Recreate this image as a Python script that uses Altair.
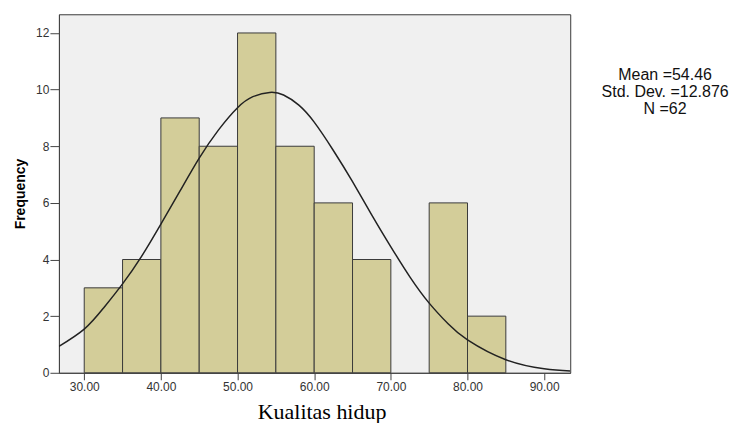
import altair as alt
import pandas as pd

# Histogram bins (Kualitas hidup) and frequencies
bin_start = [30, 35, 40, 45, 50, 55, 60, 65, 70, 75, 80]
bin_end = [35, 40, 45, 50, 55, 60, 65, 70, 75, 80, 85]
frequency = [3, 4, 9, 8, 12, 8, 6, 4, 0, 6, 2]

# Normal curve points
curve_x = [26.7, 30, 32.5, 35, 37.5, 40, 42.5, 45, 47.5, 50, 52, 54.2, 56, 58,
           60, 62.5, 65, 67.5, 70, 72.5, 75, 77.5, 80, 85, 90, 93.4]
curve_y = [0.93, 1.54, 2.28, 3.14, 4.12, 5.25, 6.42, 7.58, 8.57, 9.36, 9.75, 9.90, 9.81, 9.45,
           8.85, 7.85, 6.75, 5.58, 4.45, 3.38, 2.46, 1.72, 1.16, 0.46, 0.14, 0.06]

x_ticks = [30, 40, 50, 60, 70, 80, 90]
y_ticks = [0, 2, 4, 6, 8, 10, 12]
stats_lines = ["Mean =54.46", "Std. Dev. =12.876", "N =62"]

bars_df = pd.DataFrame({"start": bin_start, "end": bin_end, "freq": frequency})
curve_df = pd.DataFrame({"x": curve_x, "y": curve_y})

x_scale = alt.Scale(domain=[26.7, 93.4], nice=False, zero=False)
y_scale = alt.Scale(domain=[0, 12.66], nice=False)

x_axis = alt.Axis(values=x_ticks, format=".2f", title="Kualitas hidup", grid=False,
                  labelFont="Liberation Sans", labelFontSize=12, labelColor="#333333",
                  tickColor="#444444", tickSize=7, labelPadding=2, domainColor="#444444",
                  titleFont="Liberation Serif", titleFontSize=22, titleFontWeight="normal",
                  titleColor="#000000", titlePadding=9, titleX=263)
y_axis = alt.Axis(values=y_ticks, title="Frequency", grid=False,
                  labelFont="Liberation Sans", labelFontSize=12, labelColor="#333333",
                  tickColor="#444444", tickSize=9, labelPadding=1, domainColor="#444444",
                  titleFont="Liberation Sans", titleFontSize=14, titleFontWeight="bold",
                  titleColor="#000000", titlePadding=8)

bars = alt.Chart(bars_df).transform_filter("datum.freq > 0").mark_rect(
    fill="#d3cd99", stroke="#3a3a3a", strokeWidth=1
).encode(
    x=alt.X("start:Q", scale=x_scale, axis=x_axis),
    x2="end:Q",
    y=alt.Y("freq:Q", scale=y_scale, axis=y_axis),
    y2=alt.datum(0),
)

curve = alt.Chart(curve_df).mark_line(
    color="#222222", strokeWidth=1.5, interpolate="natural", clip=True
).encode(
    x=alt.X("x:Q", scale=x_scale),
    y=alt.Y("y:Q", scale=y_scale),
)

stats = alt.Chart(pd.DataFrame({"a": [0]})).mark_text(
    align="center", baseline="middle", font="Liberation Sans", fontSize=16,
    lineHeight=17, color="#111111"
).encode(
    x=alt.value(607), y=alt.value(61), text=alt.value(stats_lines)
)

chart = alt.layer(bars, curve, stats).properties(
    width=512, height=359,
    autosize=alt.AutoSizeParams(type="none"),
    padding={"left": 51, "top": 6, "right": 170, "bottom": 50},
).configure_view(
    fill="#f0f0f0", stroke="#3a3a3a", strokeWidth=1
)

chart.save("out.html", embed_options={"renderer": "svg", "actions": False})
